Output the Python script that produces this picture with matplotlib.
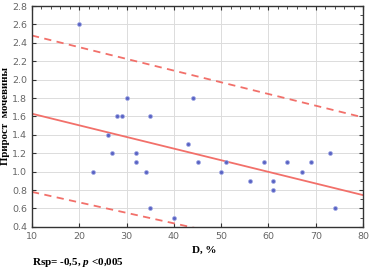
import numpy as np
import matplotlib
matplotlib.use('Agg')
from matplotlib import pyplot as plt
from matplotlib.ticker import MultipleLocator

# data points
d_pct = [20, 26, 28, 29, 30, 35, 44, 23, 27, 32, 32, 34, 35, 40,
         43, 45, 50, 51, 56, 59, 61, 61, 64, 67, 69, 73, 74]
urea_gain = [2.6, 1.4, 1.6, 1.6, 1.8, 1.6, 1.8, 1.0, 1.2, 1.2, 1.1, 1.0, 0.6, 0.5,
             1.3, 1.1, 1.0, 1.1, 0.9, 1.1, 0.9, 0.8, 1.1, 1.0, 1.1, 1.2, 0.6]

# regression line and confidence band (ends)
fit_x = [10, 80]
fit_y = [1.63, 0.745]
upper_y = [2.48, 1.59]
lower_y = [0.78, -0.017]

plt.rcParams['mathtext.fontset'] = 'custom'
plt.rcParams['mathtext.bf'] = 'Liberation Serif:italic:bold'

fig = plt.figure(figsize=(3.72, 2.76), dpi=100)
ax = fig.add_axes([0.086, 0.178, 0.89, 0.8])

line_col = '#f2706a'
ax.plot(fit_x, fit_y, color=line_col, lw=1.3)
ax.plot(fit_x, upper_y, color=line_col, lw=1.3, ls=(0, (4, 3)))
ax.plot(fit_x, lower_y, color=line_col, lw=1.3, ls=(0, (4, 3)))
ax.scatter(d_pct, urea_gain, s=8, color='#5a64c4', edgecolors='#a0a8e4',
           linewidths=0.5, zorder=3)

ax.set_xlim(10, 80)
ax.set_ylim(0.4, 2.8)
ax.xaxis.set_major_locator(MultipleLocator(10))
ax.yaxis.set_major_locator(MultipleLocator(0.2))
ax.xaxis.set_minor_locator(MultipleLocator(2))
ax.yaxis.set_minor_locator(MultipleLocator(0.1))
ax.yaxis.set_major_formatter(matplotlib.ticker.FormatStrFormatter('%.1f'))
ax.grid(True, color='#dcdcdc', lw=0.7)
ax.tick_params(which='both', direction='in', top=True, right=True,
               labelsize=6.8, labelcolor='#666666', color='#333333')
ax.tick_params(which='major', length=3)
ax.tick_params(which='minor', length=2, bottom=False, left=False)
for s in ax.spines.values():
    s.set_color('#333333')
    s.set_linewidth(1.0)

serif = ['Liberation Serif', 'DejaVu Serif']
ax.set_ylabel('Прирост  мочевины', family=serif, fontweight='bold',
              fontsize=7.8)
ax.yaxis.set_label_coords(-0.066, 0.5)
fig.text(0.515, 0.085, 'D, %', family=serif, fontweight='bold', fontsize=8)
fig.text(0.086, 0.04, r'Rsp= -0,5, $\mathbf{p}$ <0,005', family=serif,
         fontweight='bold', fontsize=8)

plt.savefig('out.png', dpi=100)
